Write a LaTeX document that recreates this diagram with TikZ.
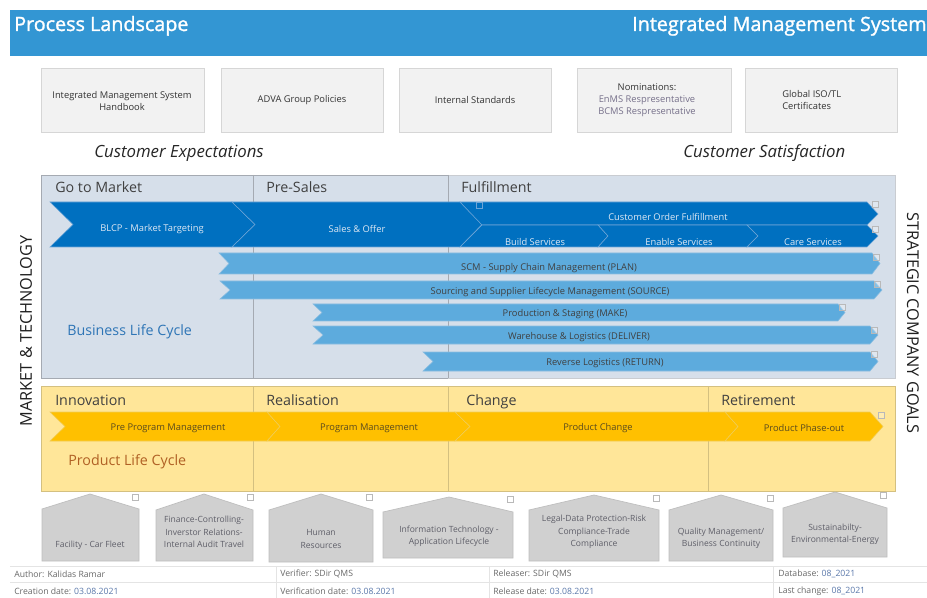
\documentclass[tikz,border=0pt]{standalone}
\usepackage{fontspec}
\setmainfont{Open Sans}
\newfontfamily\hdrfam[FakeBold=1.3]{Open Sans}
\definecolor{hdr}{RGB}{51,150,211}
\definecolor{docfill}{RGB}{242,242,242}
\definecolor{docline}{RGB}{214,214,214}
\definecolor{blfill}{RGB}{214,223,234}
\definecolor{blline}{RGB}{165,170,178}
\definecolor{dkblue}{RGB}{0,112,192}
\definecolor{dkline}{RGB}{110,165,215}
\definecolor{ltblue}{RGB}{93,171,221}
\definecolor{ltline}{RGB}{140,190,225}
\definecolor{ylfill}{RGB}{255,230,153}
\definecolor{ylline}{RGB}{212,192,128}
\definecolor{ylarrow}{RGB}{255,192,0}
\definecolor{ylsep}{RGB}{240,205,90}
\definecolor{pentfill}{RGB}{208,208,208}
\definecolor{pentline}{RGB}{190,190,190}
\definecolor{txtdark}{RGB}{64,64,64}
\definecolor{txtgray}{RGB}{95,95,105}
\definecolor{chevtxt}{RGB}{222,232,244}
\definecolor{ylltxt}{RGB}{90,75,30}
\definecolor{blctxt}{RGB}{46,117,182}
\definecolor{plctxt}{RGB}{176,96,36}
\definecolor{nomtxt}{RGB}{118,112,138}
\definecolor{foottxt}{RGB}{105,105,105}
\definecolor{footval}{RGB}{90,120,170}
\definecolor{footline}{RGB}{228,228,228}
\definecolor{sqline}{RGB}{185,185,185}
\tikzset{
  docbox/.style={draw=docline, fill=docfill, line width=0.6pt},
  doctxt/.style={font=\fontsize{7}{9}\selectfont, text=black!80, align=center, inner sep=0pt},
  hdrtxt/.style={font=\hdrfam\fontsize{14.8}{16}\selectfont, text=white, inner sep=0pt, anchor=base west},
  custtxt/.style={font=\fontsize{12.6}{14}\selectfont\itshape, text=black!85, inner sep=0pt, anchor=west},
  colhead/.style={font=\fontsize{10.7}{12}\selectfont, text=txtdark, inner sep=0pt, anchor=base west},
  dkchev/.style={fill=dkblue, draw=dkline, line width=0.4pt},
  ltchev/.style={fill=ltblue, draw=ltline, line width=0.4pt},
  ylchev/.style={fill=ylarrow, draw=ylsep, line width=0.4pt},
  dktxt/.style={font=\fontsize{7}{8}\selectfont, text=chevtxt, inner sep=0pt},
  lttxt/.style={font=\fontsize{7}{8}\selectfont, text=txtdark, inner sep=0pt},
  yltxt/.style={font=\fontsize{7}{8}\selectfont, text=ylltxt, inner sep=0pt},
  sidetxt/.style={font=\fontsize{12.2}{14}\selectfont, text=black!88, inner sep=0pt},
  penta/.style={fill=pentfill, draw=pentline, line width=0.5pt},
  penttxt/.style={font=\fontsize{6.4}{9.3}\selectfont, text=txtgray, align=center, inner sep=0pt},
  foot/.style={font=\fontsize{6.5}{8}\selectfont, text=foottxt, inner sep=0pt, anchor=west},
  sq/.style={draw=sqline, line width=0.4pt, fill=white, fill opacity=0.25},
}
\begin{document}
\begin{tikzpicture}[x=0.75pt,y=-0.75pt]
\useasboundingbox (0,0) rectangle (927,598);
\fill[white] (0,0) rectangle (927,598);
% header
\fill[hdr] (10,10) rectangle (930,56);
\node[hdrtxt] (title) at (14,31) {Process Landscape};
\node[hdrtxt] (ims) at (632,31) {Integrated Management System};
% document boxes
\draw[docbox] (41,68) rectangle (204,132);
\draw[docbox] (221,68) rectangle (383,132);
\draw[docbox] (399,68) rectangle (551,132);
\draw[docbox] (577,68) rectangle (731,132);
\draw[docbox] (745,68) rectangle (897,132);
\node[doctxt] (d1) at (122,101) {Integrated Management System\\Handbook};
\node[doctxt] (d2) at (302,100) {ADVA Group Policies};
\node[doctxt] (d3) at (475,100) {Internal Standards};
\node[doctxt] (d4) at (647,100) {Nominations:\\\textcolor{nomtxt}{EnMS Respresentative}\\\textcolor{nomtxt}{BCMS Respresentative}};
\node[doctxt, align=left, anchor=west] (d5) at (782,100) {Global ISO/TL\\Certificates};
% customer
\node[custtxt] (ce) at (94,153) {Customer Expectations};
\node[custtxt] (cs) at (683,153) {Customer Satisfaction};
% business life cycle region
\fill[blfill] (41,175) rectangle (895,378);
\draw[blline!60, line width=0.5pt] (448,175) -- (895,175) -- (895,378) -- (448,378);
\draw[blline, line width=0.6pt] (448,175) -- (41,175) -- (41,378) -- (448,378);
\draw[blline, line width=0.6pt] (253,175) -- (253,378);
\draw[blline, line width=0.6pt] (448,175) -- (448,378);
\node[colhead] (gtm) at (55,193) {Go to Market};
\node[colhead] (ps) at (266,193) {Pre-Sales};
\node[colhead] (ff) at (461,193) {Fulfillment};
% dark blue chevrons
\path[dkchev] (50,202) -- (232,202) -- (255,224.5) -- (232,247) -- (50,247) -- (73,224.5) -- cycle;
\path[dkchev] (232,202) -- (460,202) -- (482,224.5) -- (460,247) -- (232,247) -- (255,224.5) -- cycle;
\path[dkchev] (460,202) -- (867,202) -- (878,214) -- (867,225) -- (482,225) -- cycle;
\path[dkchev] (482,225) -- (598,225) -- (608,236) -- (598,247) -- (460,247) -- cycle;
\path[dkchev] (598,225) -- (747,225) -- (758,236) -- (747,247) -- (598,247) -- (608,236) -- cycle;
\path[dkchev] (747,225) -- (867,225) -- (878,236) -- (867,247) -- (747,247) -- (758,236) -- cycle;
\node[dktxt] (blcp) at (152,229) {BLCP - Market Targeting};
\node[dktxt] (so) at (357,229) {Sales \& Offer};
\node[dktxt] (cof) at (668,217) {Customer Order Fulfillment};
\node[dktxt] (bs) at (535,242) {Build Services};
\node[dktxt] (es) at (679,242) {Enable Services};
\node[dktxt] (cs2) at (813,242) {Care Services};
% light blue arrows
\path[ltchev] (219,253) -- (872,253) -- (880,263.5) -- (872,274) -- (219,274) -- (229,263.5) -- cycle;
\path[ltchev] (220,281) -- (874,281) -- (882,290) -- (874,299) -- (220,299) -- (230,290) -- cycle;
\path[ltchev] (313,304) -- (838,304) -- (845,312.5) -- (838,321) -- (313,321) -- (322,312.5) -- cycle;
\path[ltchev] (313,326) -- (870,326) -- (878,335) -- (870,344) -- (313,344) -- (323,335) -- cycle;
\path[ltchev] (423,352) -- (870,352) -- (878,361.5) -- (870,371) -- (423,371) -- (433,361.5) -- cycle;
\node[lttxt] (scm) at (549,268) {SCM - Supply Chain Management (PLAN)};
\node[lttxt] (src) at (550,292) {Sourcing and Supplier Lifecycle Management (SOURCE)};
\node[lttxt] (mk) at (565,314) {Production \& Staging (MAKE)};
\node[lttxt] (dl) at (579,337) {Warehouse \& Logistics (DELIVER)};
\node[lttxt] (rt) at (605,363) {Reverse Logistics (RETURN)};
\node[font=\fontsize{10.7}{12}\selectfont, text=blctxt, inner sep=0pt, anchor=west] (blc) at (67,332) {Business Life Cycle};
% product life cycle region
\fill[ylfill] (41,386) rectangle (895,491);
\draw[ylline, line width=0.6pt] (41,386) rectangle (895,491);
\draw[ylline, line width=0.6pt] (253,386) -- (253,491);
\draw[ylline, line width=0.6pt] (448,386) -- (448,491);
\draw[ylline, line width=0.6pt] (708,386) -- (708,491);
\node[colhead] (inn) at (55,405) {Innovation};
\node[colhead] (rea) at (266,405) {Realisation};
\node[colhead] (chg) at (466,405) {Change};
\node[colhead] (ret) at (721,405) {Retirement};
\path[ylchev] (50,412) -- (267,412) -- (280,426.5) -- (267,441) -- (50,441) -- (65,426.5) -- cycle;
\path[ylchev] (267,412) -- (455,412) -- (470,426.5) -- (455,441) -- (267,441) -- (280,426.5) -- cycle;
\path[ylchev] (455,412) -- (725,412) -- (738,426.5) -- (725,441) -- (455,441) -- (470,426.5) -- cycle;
\path[ylchev] (725,412) -- (870,412) -- (883,426.5) -- (870,441) -- (725,441) -- (738,426.5) -- cycle;
\node[yltxt] (ppm) at (168,428) {Pre Program Management};
\node[yltxt] (pm) at (369,428) {Program Management};
\node[yltxt] (pc) at (598,428) {Product Change};
\node[yltxt] (po) at (804,428) {Product Phase-out};
\node[font=\fontsize{10.7}{12}\selectfont, text=plctxt, inner sep=0pt, anchor=west] (plc) at (68,462) {Product Life Cycle};
% side labels
\node[sidetxt, rotate=90] (mt) at (26,331) {MARKET \& TECHNOLOGY};
\node[sidetxt, rotate=-90] (scg) at (913,323) {STRATEGIC COMPANY GOALS};
% pentagons
\path[penta] (42,509) -- (90,494) -- (139,509) -- (139,561) -- (42,561) -- cycle;
\path[penta] (156,510) -- (204,494) -- (253,510) -- (253,561) -- (156,561) -- cycle;
\path[penta] (269,510) -- (321,494) -- (373,510) -- (373,562) -- (269,562) -- cycle;
\path[penta] (383,512) -- (449,497) -- (513,512) -- (513,558) -- (383,558) -- cycle;
\path[penta] (529,510) -- (594,495) -- (659,510) -- (659,561) -- (529,561) -- cycle;
\path[penta] (669,510) -- (721,495) -- (773,510) -- (773,561) -- (669,561) -- cycle;
\path[penta] (783,508) -- (835,492) -- (887,508) -- (887,557) -- (783,557) -- cycle;
\node[penttxt] (p1) at (90,545) {Facility - Car Fleet};
\node[penttxt] (p2) at (204,532) {Finance-Controlling-\\Inverstor Relations-\\Internal Audit Travel};
\node[penttxt] (p3) at (321,539) {Human\\Resources};
\node[penttxt] (p4) at (449,536) {Information Technology -\\Application Lifecycle};
\node[penttxt] (p5) at (594,532) {Legal-Data Protection-Risk\\Compliance-Trade\\Compliance};
\node[penttxt] (p6) at (721,538) {Quality Management/\\Business Continuity};
\node[penttxt] (p7) at (835,534) {Sustainabilty-\\Environmental-Energy};
% small squares
\path[draw=dkline, line width=0.4pt] (476,202) rectangle (482,208);
\foreach \sx/\sy in {875/204,875/229,876/257,877/284,842/307,874/330,874/354,881/415,
  135/497,250/497,369/497,510/499,656/498,770/498,883/495}
  \path[sq] (\sx-3,\sy-3) rectangle (\sx+3,\sy+3);
% footer
\draw[footline, line width=0.6pt] (10,566) -- (927,566);
\draw[footline, line width=0.6pt] (10,582) -- (927,582);
\draw[footline, line width=0.6pt] (276,566) -- (276,598);
\draw[footline, line width=0.6pt] (489,566) -- (489,598);
\draw[footline, line width=0.6pt] (773,566) -- (773,598);
\node[foot] (f1) at (14,574) {Author: Kalidas Ramar};
\node[foot] (f2) at (280,574) {Verifier: SDir QMS};
\node[foot] (f3) at (493,574) {Releaser: SDir QMS};
\node[foot] (f4) at (778,574) {Database: \textcolor{footval}{08\_2021}};
\node[foot] (f5) at (14,591) {Creation date: \textcolor{footval}{03.08.2021}};
\node[foot] (f6) at (280,591) {Verification date: \textcolor{footval}{03.08.2021}};
\node[foot] (f7) at (493,591) {Release date: \textcolor{footval}{03.08.2021}};
\node[foot] (f8) at (778,591) {Last change: \textcolor{footval}{08\_2021}};
\end{tikzpicture}
\end{document}
